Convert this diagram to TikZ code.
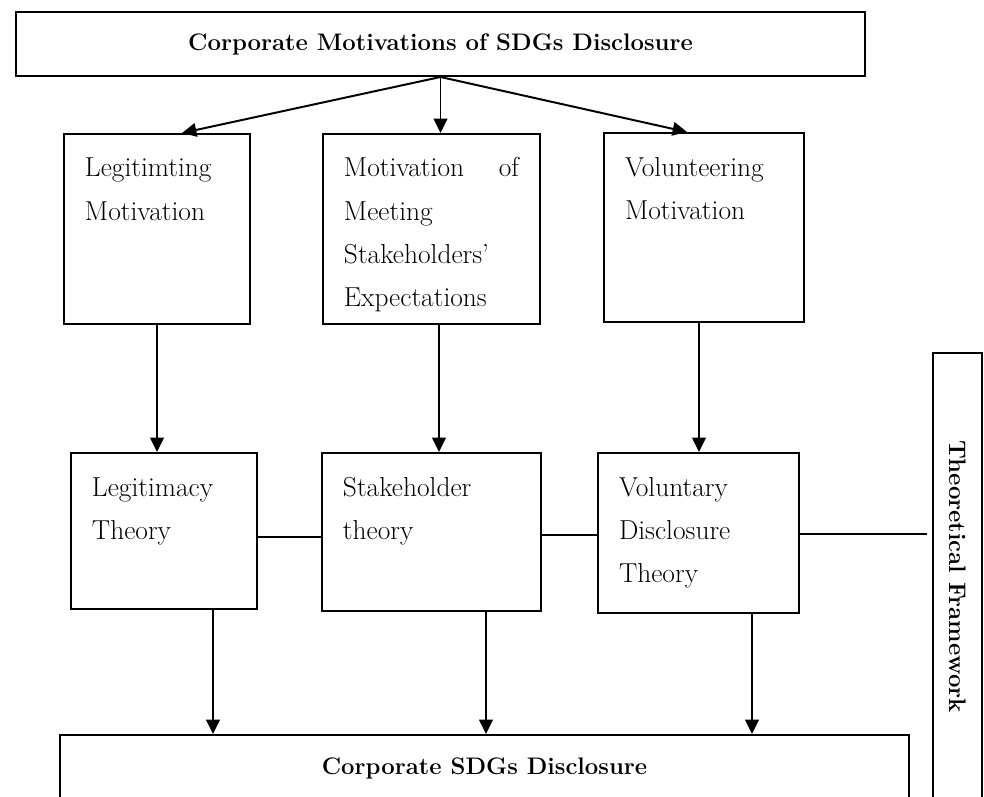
\documentclass[tikz,border=0pt]{standalone}
\usepackage{tikz}
\usetikzlibrary{arrows.meta,positioning,calc}
\tikzset{
    >={Triangle[length=3.6mm,width=3.4mm]},
    headbox/.style={draw, align=center, minimum width=21.225cm, font=\fontsize{17}{20}\selectfont\bfseries},
    motbox/.style={draw, anchor=north west, align=left, inner xsep=0.525cm, inner ysep=0pt, text height=1.075cm, font=\fontsize{19.5}{30.6}\selectfont},
    framebox/.style={draw, rotate=-90, minimum width=11.175cm, minimum height=1.225cm, font=\fontsize{17}{20}\selectfont\bfseries}
}

\begin{document}
\begin{tikzpicture}[x=0.025cm,y=-0.025cm,line width=1.4pt]
    \useasboundingbox (0,0) rectangle (984,796);
    \node[headbox, minimum height=1.6cm] (motives) at (440.5,44) {Corporate Motivations of SDGs Disclosure};
    % The three motivations
    \node[motbox, text width=3.6cm, text depth=3.675cm] (legmot) at (63,133) {Legitimting\\Motivation};
    \node[motbox, text width=4.375cm, text depth=3.675cm] (stakmot) at (322,133) {Motivation\hfill of\\Meeting\\Stakeholders'\\Expectations};
    \node[motbox, text width=3.95cm, text depth=3.65cm] (volmot) at (603,132) {Volunteering\\Motivation};
    \path[->] (motives.south) edge (legmot.north -| 182,0);
    \path[->] (motives.south) edge (motives.south |- stakmot.north);
    \path[->] (motives.south) edge (volmot.north -| 687,0);
    % The theories behind them
    \node[motbox, text width=3.6cm, text depth=2.825cm] (legth) at (70,452) {Legitimacy\\Theory};
    \node[motbox, text width=4.425cm, text depth=2.875cm] (stakth) at (321,452) {Stakeholder\\theory};
    \node[motbox, text width=3.975cm, text depth=2.925cm] (volth) at (597,452) {Voluntary\\Disclosure\\Theory};
    \path[->] (legmot.south) edge (legmot.south |- legth.north);
    \path[->] (stakmot.south -| 439,0) edge (stakth.north -| 439,0);
    \path[->] (volmot.south -| 699,0) edge (volth.north -| 699,0);
    \node[framebox] (theory) at (957.5,576.5) {Theoretical Framework};
    \path (legth.east |- 0,537) edge (stakth.west |- 0,537);
    \path (stakth.east |- 0,535) edge (volth.west |- 0,535);
    \path (volth.east |- 0,534) edge[shorten >=0.125cm] (theory.south |- 0,534);
    % Outcome
    \node[headbox, minimum height=1.65cm] (sdgs) at (484.5,768) {Corporate SDGs Disclosure};
    \path[->] (legth.south -| 213,0) edge (sdgs.north -| 213,0);
    \path[->] (stakth.south -| 486,0) edge (sdgs.north -| 486,0);
    \path[->] (volth.south -| 752,0) edge (sdgs.north -| 752,0);
\end{tikzpicture}
\end{document}
